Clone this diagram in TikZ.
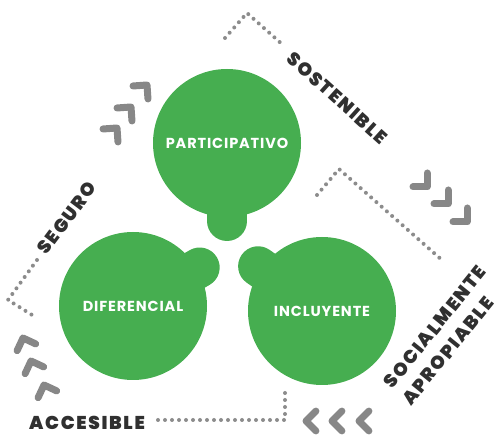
\documentclass[tikz,border=0pt]{standalone}
\usepackage{fontspec}
\setmainfont{Poppins}
\newfontfamily\whitefont{Poppins Bold}[LetterSpace=6]
\newfontfamily\darkfont{Poppins Black}[LetterSpace=9]
\usepackage{tikz}
\usetikzlibrary{calc}
\definecolor{leafgreen}{RGB}{70,174,80}
\definecolor{arrowgray}{RGB}{135,135,135}
\definecolor{dotgray}{RGB}{140,140,140}
\definecolor{inkdark}{RGB}{48,48,48}
\tikzset{
  bubble/.style={circle, fill=leafgreen, minimum size=148pt, inner sep=0pt, text=white, font=\whitefont\fontsize{14.5}{14.5}\selectfont},
  stem/.style={leafgreen, line width=40pt, line cap=round},
  chevron/.style={arrowgray, line width=7pt, line cap=round, line join=round},
  dots/.style={dotgray, line width=4pt, line cap=round, dash pattern=on 0pt off 7pt},
  tag/.style={text=inkdark, inner sep=0pt, font=\darkfont\fontsize{18.5}{27}\selectfont}
}
\newcommand{\chev}[3]{\draw[chevron, shift={(#1,#2)}, rotate=#3] (-14,0) -- (0,0) -- (0,-14);}

\begin{document}
\begin{tikzpicture}[x=1pt,y=1pt]
        \useasboundingbox (0,0) rectangle (498,436);

        % centres
        \coordinate (pc) at (227,293);
        \coordinate (dc) at (133,130);
        \coordinate (ic) at (322,125);

        % stems
        \draw[stem] (pc) -- ++(270:78);
        \draw[stem] (dc) -- ++(30:77);
        \draw[stem] (ic) -- ++(145:78);

        % bubbles
        \node[bubble] (participativo) at (pc) {PARTICIPATIVO};
        \node[bubble] (diferencial) at (dc) {DIFERENCIAL};
        \node[bubble] (incluyente) at (ic) {INCLUYENTE};

        % dotted paths
        \draw[dots] (225,398) -- (247,423) -- (283,391);
        \draw[dots] (317,241) -- (339,267) -- (443,175);
        \draw[dots] (37,176) -- (8,136) -- (37,118);
        \draw[dots] (158,16) -- (285,16) -- (285,49);

        % chevrons
        \chev{147}{351}{4}
        \chev{131}{329}{4}
        \chev{117}{308}{4}

        \chev{427}{249}{-90}
        \chev{448}{232}{-90}
        \chev{467}{214}{-90}

        \chev{306}{15}{135}
        \chev{332}{15}{135}
        \chev{359}{15}{135}

        \chev{23}{98}{65}
        \chev{31}{75}{65}
        \chev{44}{51}{65}

        % labels
        \node[tag] (accesible) at (87,13) {ACCESIBLE};
        \node[tag, rotate=53] (seguro) at (67,218) {SEGURO};
        \node[tag, rotate=-42] (sostenible) at (337.5,338) {SOSTENIBLE};
        \node[tag, rotate=51] (socialmente) at (435,109) {SOCIALMENTE};
        \node[tag, rotate=51] (apropiable) at (448,85) {APROPIABLE};

    \end{tikzpicture}
\end{document}
